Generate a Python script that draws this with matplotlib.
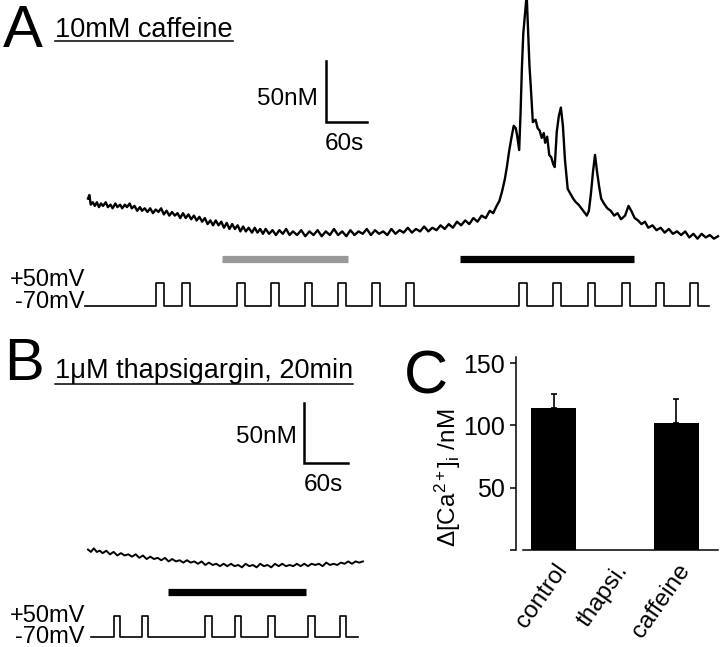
import matplotlib
matplotlib.use('Agg')
import matplotlib.pyplot as plt
from matplotlib.lines import Line2D
import numpy as np

plt.rcParams['font.family'] = ['Liberation Sans', 'DejaVu Sans']
plt.rcParams['mathtext.fontset'] = 'custom'
plt.rcParams['mathtext.rm'] = 'Liberation Sans'
plt.rcParams['mathtext.it'] = 'Liberation Sans:italic'
plt.rcParams['mathtext.bf'] = 'Liberation Sans:bold'

# ---------------- data ----------------
# Panel A: [Ca2+]i trace (time in s, concentration change in nM)
a_time = [0, 2, 4, 7, 10, 13, 16, 19, 22, 26, 29, 33, 36, 40, 43, 47, 50, 54, 57, 61,
          64, 68, 72, 76, 79, 83, 87, 91, 95, 99, 103, 107, 111, 115, 119, 123, 127, 131,
          135, 139, 143, 147, 151, 155, 159, 163, 167, 171, 175, 179, 183, 187, 191, 195,
          199, 203, 207, 211, 215, 219, 223, 227, 231, 235, 240, 244, 248, 252, 256, 260,
          265, 270, 275, 280, 285, 290, 295, 300, 306, 312, 318, 324, 330, 336, 342, 348,
          354, 360, 366, 372, 378, 384, 390, 396, 402, 408, 414, 420, 426, 432, 438, 444,
          450, 456, 462, 468, 474, 480, 486, 492, 498, 504, 510, 516, 522, 528, 534, 540,
          546, 552, 558, 564, 570, 576, 582, 588, 593, 598, 602, 606, 610, 613, 616, 619,
          623, 626, 628, 631, 633, 635, 637, 640, 642, 644, 646, 648, 651, 655, 658, 661,
          664, 667, 669, 672, 675, 678, 681, 683, 686, 689, 692, 695, 698, 702, 706, 710,
          714, 718, 722, 726, 730, 733, 736, 739, 742, 745, 748, 751, 755, 760, 765, 770,
          775, 780, 786, 791, 795, 800, 805, 810, 815, 820, 826, 832, 838, 844, 850, 856,
          862, 868, 874, 880, 886, 892, 898, 904, 910, 916, 922]
a_conc = [30, 33, 25, 27, 24, 27, 23, 26, 24, 27, 23, 25, 22, 26, 23, 25, 22, 25, 23, 26,
          22, 24, 20, 23, 20, 22, 19, 22, 18, 21, 19, 22, 17, 20, 16, 19, 16, 18,
          14, 18, 14, 17, 13, 16, 12, 15, 11, 14, 9, 12, 8, 12, 8, 11,
          6, 10, 5, 9, 5, 8, 3, 7, 3, 6, 2, 6, 2, 5, 1, 5,
          1, 4, 0, 4, 1, 5, 0, 3, 0, 4, -1, 3, 0, 4, -1, 3,
          0, 5, 0, 3, -1, 4, 0, 3, 1, 5, 0, 4, 1, 3, 0, 5,
          1, 4, 2, 6, 2, 5, 3, 7, 3, 6, 4, 8, 5, 9, 6, 11,
          8, 12, 9, 14, 11, 16, 14, 20, 18, 24, 28, 36, 46, 56, 68, 78,
          90, 88, 82, 70, 100, 138, 166, 185, 198, 168, 140, 122, 93, 95, 88, 86,
          80, 84, 76, 81, 66, 64, 58, 56, 85, 98, 105, 90, 62, 38, 34, 30,
          27, 25, 22, 19, 16, 20, 34, 52, 66, 52, 40, 30, 26, 22, 20, 16,
          18, 13, 16, 24, 20, 14, 12, 9, 11, 6, 8, 4, 6, 2, 5, 1,
          3, 0, 3, -2, 1, -3, 1, -2, 0, -3, -1]

# Panel A: application bars (s) and depolarising pulse onsets (s)
a_control_bar = [196, 381]
a_caffeine_bar = [544, 799]
a_pulse_onsets = [99, 138, 218, 268, 317, 366, 416, 466, 631, 681, 731, 782, 831, 881]
a_pulse_dur = 11.5
a_protocol_span = [-4, 909]

# Panel B: [Ca2+]i trace in thapsigargin
b_time = [0, 4, 8, 12, 16, 20, 25, 30, 35, 40, 45, 50, 55, 60, 65, 70, 75, 80, 85, 90,
          95, 100, 105, 110, 115, 120, 125, 130, 135, 140, 145, 150, 155, 160, 165, 170,
          175, 180, 185, 190, 195, 200, 205, 210, 215, 220, 225, 230, 235, 240, 245, 250,
          255, 260, 265, 270, 275, 280, 285, 290, 295, 300, 305, 310, 315, 320, 325, 330,
          335, 340, 345, 350, 355, 360, 365, 370, 375]
b_conc = [13, 11, 14, 11, 12, 10, 12, 9, 11, 8, 10, 8, 9, 7, 9, 6, 8, 5, 7, 5,
          6, 4, 6, 3, 5, 3, 4, 2, 4, 2, 3, 1, 3, 0, 2, 0,
          1, -1, 1, -1, 1, -1, 0, -2, 1, -1, 0, -2, 1, -1, 0, -2,
          1, -1, 1, -1, 0, -1, 1, -1, 1, -1, 1, 0, 1, -1, 2, 0,
          1, 0, 2, 1, 3, 1, 3, 2, 3]
b_bar = [109, 297]
b_pulse_onsets = [35.5, 73, 160, 200.5, 246, 300.5, 344]
b_pulse_dur = 8.5
b_protocol_span = [4, 368]

# Voltage levels (mV)
v_hold = -70
v_step = 50

# Scale bars
scale_nM = 50
scale_s = 60

# Panel C
categories = ['control', 'thapsi.', 'caffeine']
means = [114, 0, 102]
errors = [11, 0, 19]
c_yticks = [0, 50, 100, 150]
c_yticklabels = ['', '50', '100', '150']

# ---------------- layout helpers ----------------
W, H = 720, 647
fig = plt.figure(figsize=(7.2, 6.47), dpi=100)


def box(x0, y0, x1, y1):
    return [x0 / W, 1 - y1 / H, (x1 - x0) / W, (y1 - y0) / H]


def fx(x):
    return x / W


def fy(y):
    return 1 - y / H


def off(ax):
    ax.set_axis_off()


def pulses(onsets, dur, span):
    xs, ys = [span[0]], [v_hold]
    for o in onsets:
        xs += [o, o, o + dur, o + dur]
        ys += [v_hold, v_step, v_step, v_hold]
    xs.append(span[1])
    ys.append(v_hold)
    return xs, ys


# ---------------- Panel A ----------------
axA = fig.add_axes(box(0, 0, 720, 270))
axA.set_xlim(-128.8, 924.9)
axA.set_ylim(-28.8, 193.6)
off(axA)
axA.plot(a_time, a_conc, color='black', lw=1.7, clip_on=False)
axA.plot(a_control_bar, [-19.8, -19.8], color='#999999', lw=5.2, solid_capstyle='butt')
axA.plot(a_caffeine_bar, [-19.8, -19.8], color='black', lw=5.2, solid_capstyle='butt')
# scale bar
sx, sy = 348.3, 93.3
axA.plot([sx, sx, sx + scale_s], [sy + scale_nM, sy, sy], color='black', lw=1.8,
         solid_joinstyle='miter')

axAv = fig.add_axes(box(0, 270, 720, 320))
axAv.set_xlim(-128.8, 924.9)
axAv.set_ylim(-144.6, 116.3)
off(axAv)
px_, py_ = pulses(a_pulse_onsets, a_pulse_dur, a_protocol_span)
axAv.plot(px_, py_, color='black', lw=1.2)

# ---------------- Panel B ----------------
axB = fig.add_axes(box(0, 390, 380, 600))
axB.set_xlim(-120, 398.3)
axB.set_ylim(-29.5, 147.4)
off(axB)
axB.plot(b_time, b_conc, color='black', lw=1.4)
axB.plot(b_bar, [-23, -23], color='black', lw=5.2, solid_capstyle='butt')
bx, by = 295, 86.1
axB.plot([bx, bx, bx + scale_s], [by + scale_nM, by, by], color='black', lw=1.8,
         solid_joinstyle='miter')

axBv = fig.add_axes(box(0, 600, 380, 647))
axBv.set_xlim(-120, 398.3)
axBv.set_ylim(-124.6, 140.1)
off(axBv)
px_, py_ = pulses(b_pulse_onsets, b_pulse_dur, b_protocol_span)
axBv.plot(px_, py_, color='black', lw=1.2)

# ---------------- Panel C ----------------
axC = fig.add_axes(box(523, 357, 718, 550))
xpos = np.arange(len(categories))
axC.bar(xpos, means, width=0.73, color='black')
has_err = [e > 0 for e in errors]
axC.errorbar(xpos[has_err], np.array(means)[has_err],
             yerr=[np.zeros(sum(has_err)), np.array(errors)[has_err]],
             fmt='none', ecolor='black', elinewidth=1.2, capsize=2.5, capthick=1.2)
axC.set_xlim(-0.496, 2.675)
axC.set_ylim(0, 155)
for s in ['top', 'right']:
    axC.spines[s].set_visible(False)
axC.spines['left'].set_position(('outward', 5.3))
axC.spines['left'].set_linewidth(1.1)
axC.spines['bottom'].set_linewidth(1.1)
axC.set_yticks(c_yticks)
axC.set_yticklabels(c_yticklabels)
axC.tick_params(axis='y', direction='out', length=4.5, width=1.1, labelsize=18, pad=3)
axC.set_xticks(xpos)
axC.set_xticklabels(categories, rotation=55, ha='right', va='top', rotation_mode='anchor')
axC.tick_params(axis='x', length=0, labelsize=17.5, pad=7)

fig.text(fx(447.5), fy(477.5), 'Δ[Ca$^{2+}$]$_{\\mathrm{i}}$ /nM', rotation=90,
         ha='center', va='center', fontsize=17.5)

# ---------------- texts ----------------
fig.text(fx(3), fy(47), 'A', fontsize=43, ha='left', va='baseline')
fig.text(fx(4), fy(380), 'B', fontsize=43, ha='left', va='baseline')
fig.text(fx(404), fy(393), 'C', fontsize=44, ha='left', va='baseline')

tA = fig.text(fx(55), fy(37), '10mM caffeine', fontsize=19.5, ha='left', va='baseline')
tB = fig.text(fx(55), fy(378), '1μM thapsigargin, 20min', fontsize=19.5, ha='left', va='baseline')

fig.text(fx(318), fy(105), '50nM', fontsize=17.5, ha='right', va='baseline')
fig.text(fx(325), fy(150), '60s', fontsize=17.5, ha='left', va='baseline')
fig.text(fx(297), fy(443), '50nM', fontsize=17.5, ha='right', va='baseline')
fig.text(fx(304), fy(491), '60s', fontsize=17.5, ha='left', va='baseline')

for ybase_p, ybase_m in [(286, 308), (622, 643)]:
    fig.text(fx(85), fy(ybase_p), '+50mV', fontsize=17, ha='right', va='baseline')
    fig.text(fx(85), fy(ybase_m), '-70mV', fontsize=17, ha='right', va='baseline')

# underlines
fig.canvas.draw()
r = fig.canvas.get_renderer()
for t, yu in [(tA, 40.7), (tB, 383.5)]:
    bb = t.get_window_extent(renderer=r)
    fig.add_artist(Line2D([bb.x0 / W, bb.x1 / W], [fy(yu), fy(yu)],
                          transform=fig.transFigure, color='black', lw=1.1))

fig.savefig('out.png', dpi=100)
